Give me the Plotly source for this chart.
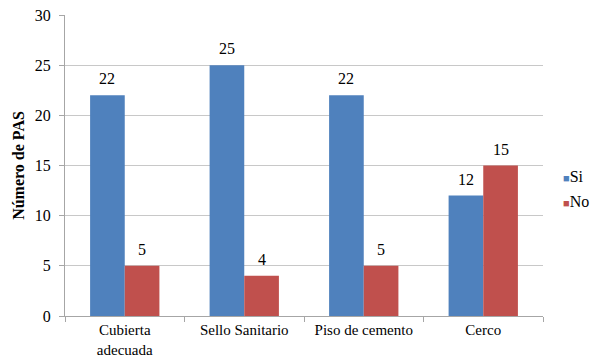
import plotly.graph_objects as go

categories = ["Cubierta<br>adecuada", "Sello Sanitario", "Piso de cemento", "Cerco"]
si_values = [22, 25, 22, 12]
no_values = [5, 4, 5, 15]
y_ticks = [0, 5, 10, 15, 20, 25, 30]

BLUE = "#4F81BD"
RED = "#C0504D"
FONT = "Liberation Serif"
FS = 16

BARGAP = 0.42
L, R, T, B = 65, 57, 15, 44
W, H = 600, 360
plot_w = W - L - R
bar_px = plot_w / len(categories) * (1 - BARGAP) / 2

fig = go.Figure()
series = [("Si", si_values, BLUE, -1), ("No", no_values, RED, 1)]
for name, vals, color, side in series:
    fig.add_trace(go.Bar(
        x=categories, y=vals, name=name, marker_color=color,
        marker_line_width=0, showlegend=False, hoverinfo="x+y",
    ))
    # value labels above each bar
    for cat, v in zip(categories, vals):
        fig.add_annotation(
            x=cat, y=v, text=str(v), showarrow=False,
            xshift=side * bar_px / 2, yshift=6, yanchor="bottom",
            font=dict(family=FONT, size=FS, color="black"),
        )

# legend entries on the right
legend_y = [0.465, 0.382]
for (name, vals, color, side), ly in zip(series, legend_y):
    fig.add_annotation(
        xref="paper", yref="paper", x=1.038, y=ly, xanchor="left", yanchor="middle",
        showarrow=False,
        text=f"<span style='color:{color};font-size:11px'>■</span>{name}",
        font=dict(family=FONT, size=FS, color="black"),
    )

fig.update_layout(
    width=W, height=H,
    margin=dict(l=L, r=R, t=T, b=B, autoexpand=False),
    paper_bgcolor="white", plot_bgcolor="white",
    barmode="group", bargap=BARGAP, bargroupgap=0,
    showlegend=False,
)
fig.update_xaxes(
    automargin=False,
    showline=True, linecolor="#A6A6A6", linewidth=1,
    ticks="outside", tickson="boundaries", ticklen=5, tickcolor="#A6A6A6",
    ticklabelstandoff=0,
    tickfont=dict(family=FONT, size=15, color="black"), showgrid=False,
)
fig.update_yaxes(
    automargin=False,
    range=[0, 30], tickvals=y_ticks, showline=True, linecolor="#A6A6A6",
    linewidth=1, ticks="outside", ticklen=5, tickcolor="#A6A6A6",
    ticklabelstandoff=5,
    showgrid=True, gridcolor="#C8C8C8", gridwidth=1, zeroline=False,
    tickfont=dict(family=FONT, size=FS, color="black"),
    title=dict(text="<b>Número de PAS</b>", font=dict(family=FONT, size=FS, color="black"), standoff=6),
)

fig.write_html("out.html")
